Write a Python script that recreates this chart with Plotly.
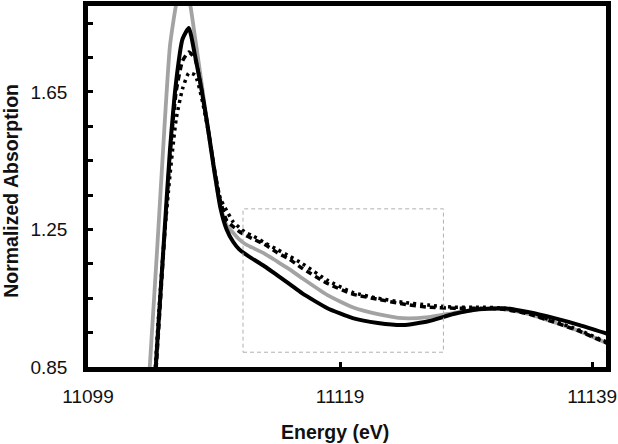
import plotly.graph_objects as go

energy = [11103.5, 11104, 11104.5, 11105, 11105.5, 11106, 11106.5, 11107, 11107.5,
          11108, 11108.5, 11109, 11109.5, 11110, 11110.5, 11111, 11111.5, 11112,
          11113, 11114, 11115, 11116, 11118, 11120, 11122, 11124, 11126, 11128,
          11130, 11132, 11134, 11136, 11138, 11140, 11141]

grey_solid = [0.62, 0.908, 1.201, 1.508, 1.783, 1.905, 1.966, 1.925, 1.807,
              1.679, 1.546, 1.421, 1.320, 1.262, 1.241, 1.221, 1.207, 1.198,
              1.180, 1.157, 1.134, 1.108, 1.059, 1.024, 1.004, 0.992, 0.995, 1.007,
              1.018, 1.018, 1.004, 0.980, 0.954, 0.922, 0.908]

black_solid = [0.35, 0.63, 0.922, 1.204, 1.479, 1.682, 1.804, 1.836, 1.754,
               1.659, 1.549, 1.427, 1.314, 1.250, 1.215, 1.192, 1.178, 1.166,
               1.143, 1.117, 1.091, 1.064, 1.021, 0.992, 0.978, 0.972, 0.983, 1.004,
               1.018, 1.021, 1.009, 0.992, 0.972, 0.949, 0.937]

black_dashed = [0.35, 0.62, 0.899, 1.189, 1.464, 1.653, 1.740, 1.766, 1.746,
                1.659, 1.549, 1.433, 1.334, 1.276, 1.259, 1.244, 1.233, 1.224,
                1.207, 1.183, 1.163, 1.137, 1.093, 1.062, 1.047, 1.033, 1.024, 1.021,
                1.021, 1.018, 1.004, 0.980, 0.954, 0.922, 0.908]

black_dotted = [0.36, 0.638, 0.943, 1.204, 1.407, 1.572, 1.659, 1.705, 1.699,
                1.636, 1.543, 1.427, 1.340, 1.305, 1.273, 1.256, 1.241, 1.233,
                1.212, 1.192, 1.172, 1.151, 1.102, 1.067, 1.050, 1.038, 1.030, 1.024,
                1.024, 1.021, 1.007, 0.983, 0.957, 0.925, 0.911]

x_ticks = [11099, 11119, 11139]
x_tick_labels = ["11099", "11119", "11139"]
y_ticks = [0.85, 0.95, 1.05, 1.15, 1.25, 1.35, 1.45, 1.55, 1.65, 1.75, 1.85]
y_tick_labels = ["0.85", "", "", "", "1.25", "", "", "", "1.65", "", ""]

zoom_box_x = [11111.3, 11127.2]
zoom_box_y = [0.893, 1.31]

fig = go.Figure()
fig.add_trace(go.Scatter(x=energy, y=grey_solid, mode="lines",
                         line=dict(color="#a3a3a3", width=3.8, shape="spline", smoothing=0.5)))
fig.add_trace(go.Scatter(x=energy, y=black_dotted, mode="lines",
                         line=dict(color="black", width=3.5, dash="3px,4px", shape="spline", smoothing=0.5)))
fig.add_trace(go.Scatter(x=energy, y=black_dashed, mode="lines",
                         line=dict(color="black", width=3.5, dash="6px,4px", shape="spline", smoothing=0.5)))
fig.add_trace(go.Scatter(x=energy, y=black_solid, mode="lines",
                         line=dict(color="black", width=4, shape="spline", smoothing=0.5)))

fig.add_shape(type="rect", xref="x", yref="y",
              x0=zoom_box_x[0], x1=zoom_box_x[1], y0=zoom_box_y[0], y1=zoom_box_y[1],
              line=dict(color="#b0b0b0", width=1, dash="4px,3px"))

font_family = "Liberation Sans, Arial, sans-serif"

fig.update_layout(
    width=618, height=444,
    margin=dict(l=88, r=12, t=6, b=77),
    paper_bgcolor="white", plot_bgcolor="white",
    showlegend=False,
    font=dict(family=font_family, size=19, color="black"),
    xaxis=dict(range=[11099, 11140.1], tickvals=x_ticks, ticktext=x_tick_labels,
               ticks="inside", ticklen=5, tickwidth=2.5, tickcolor="black",
               showline=True, linecolor="black", linewidth=4.5, mirror=True,
               showgrid=False, zeroline=False, ticklabelstandoff=8, automargin=False,
               tickfont=dict(size=19, color="#111111")),
    yaxis=dict(range=[0.85, 1.9], tickvals=y_ticks, ticktext=y_tick_labels,
               ticks="inside", ticklen=5, tickwidth=2.5, tickcolor="black",
               showline=True, linecolor="black", linewidth=4.5, mirror=True,
               showgrid=False, zeroline=False, ticklabelstandoff=12, automargin=False,
               tickfont=dict(size=19, color="#111111")),
    annotations=[
        dict(text="<b>Energy (eV)</b>", xref="paper", yref="paper",
             x=0.477, y=-0.18, xanchor="center", yanchor="middle",
             showarrow=False, font=dict(size=19.5, color="#111111")),
        dict(text="<b>Normalized Absorption</b>", xref="paper", yref="paper",
             x=-0.149, y=0.4875, xanchor="center", yanchor="middle",
             textangle=-90, showarrow=False, font=dict(size=19.5, color="#111111")),
    ],
)

fig.write_html("out.html")
